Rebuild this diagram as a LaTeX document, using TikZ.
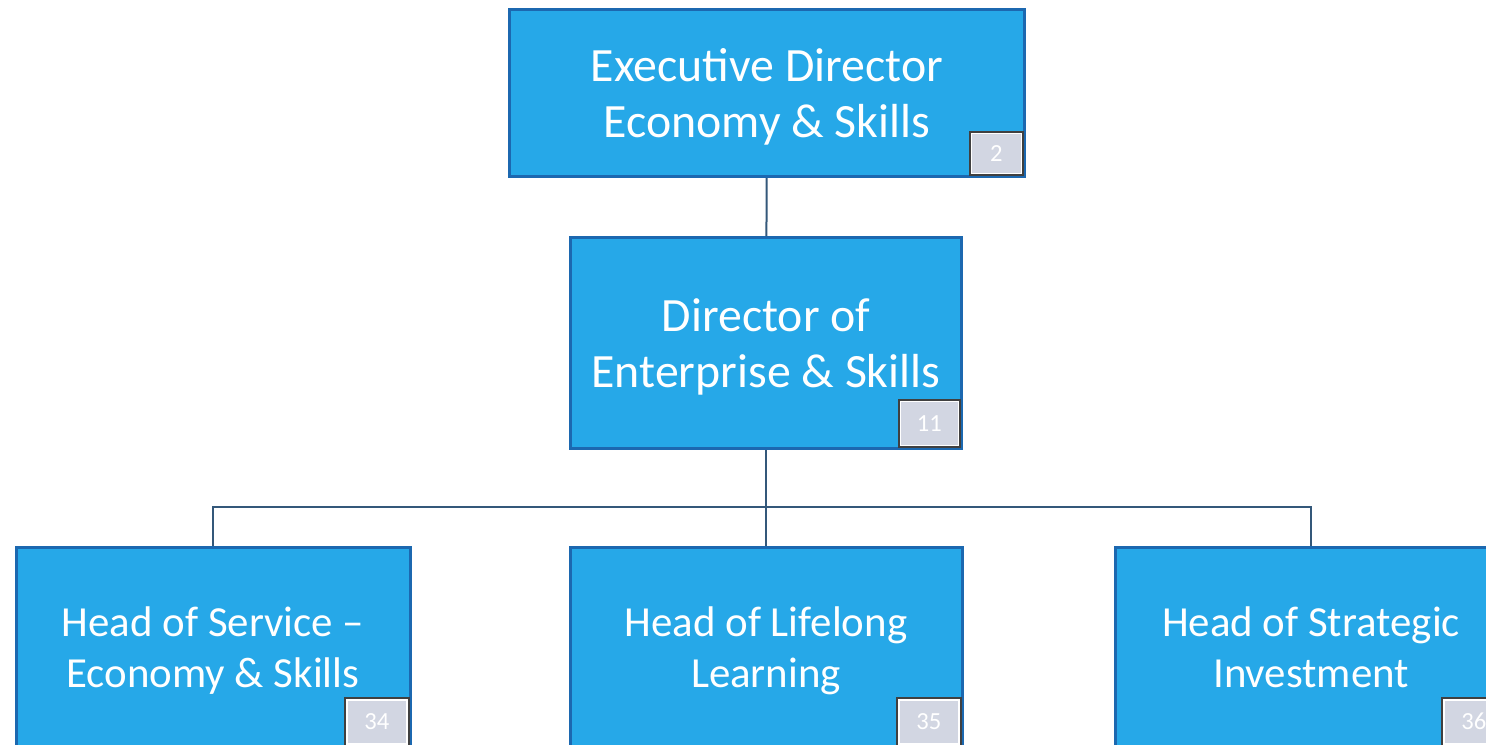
\documentclass[tikz,border=0pt]{standalone}
\usepackage{fontspec}
\setmainfont{Carlito}
\usepackage{xcolor}
\usepackage{tikz}
\usetikzlibrary{positioning}
\definecolor{postfill}{RGB}{38,168,232}
\definecolor{postline}{RGB}{28,104,176}
\definecolor{linkline}{RGB}{52,88,122}
\definecolor{tagfill}{RGB}{210,214,226}

\begin{document}
\begin{tikzpicture}[x=0.1mm, y=-0.1mm,
			post/.style={draw=postline, line width=0.3mm, fill=postfill,
				text=white, align=center, inner sep=0pt, text depth=0pt,
				font=\fontsize{13.6}{16}\selectfont},
			head/.style={post, minimum width=39.2mm, minimum height=20mm,
				font=\fontsize{12.2}{14.6}\selectfont},
			tag/.style={draw=white, line width=0.15mm, fill=tagfill,
				preaction={draw=black!75, line width=0.55mm},
				text=white, inner sep=0pt, minimum width=6mm, minimum height=4.4mm,
				anchor=south east, font=\fontsize{7}{8}\selectfont},
			link/.style={draw=linkline, line width=0.2mm}]
			
			\useasboundingbox (0,0) rectangle (1486,744);
			
			% posts
			\node (exec) [post, minimum width=51.5mm, minimum height=16.7mm] at (767,93) {Executive Director\\Economy \& Skills};
			\node (dir) [post, minimum width=39.1mm, minimum height=21.1mm] at (766,343) {Director of\\Enterprise \& Skills};
			\node (hos) [head, minimum width=39.4mm] at (213,647) {Head of Service --\\Economy \& Skills};
			\node (hll) [head] at (766,647) {Head of Lifelong\\Learning};
			\node (hsi) [head] at (1311,647) {Head of Strategic\\Investment};
			
			% number tags
			\node [tag, minimum width=5mm, minimum height=4mm] at ([xshift=-0.4mm, yshift=0.4mm]exec.south east) {2};
			\node [tag, minimum width=5.8mm] at ([xshift=-0.4mm, yshift=0.4mm]dir.south east) {11};
			\node [tag] at ([xshift=-0.4mm, yshift=0.4mm]hos.south east) {34};
			\node [tag] at ([xshift=-0.4mm, yshift=0.4mm]hll.south east) {35};
			\node [tag] at ([xshift=-0.4mm, yshift=0.4mm]hsi.south east) {36};
			
			% links
			\coordinate (bus) at (766,507);
			\draw[link] (exec) -- (dir);
			\draw[link] (dir) -- (bus);
			\draw[link] (hos.north) |- (bus) -| (hsi.north);
			\draw[link] (bus) -- (hll);
		\end{tikzpicture}
\end{document}
